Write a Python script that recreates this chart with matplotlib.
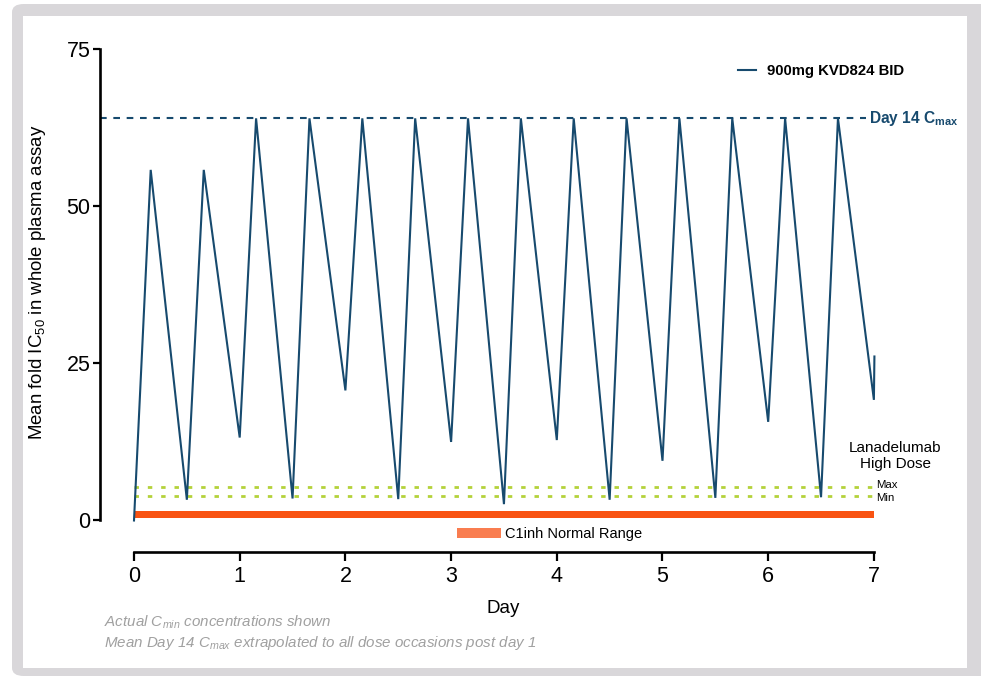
import matplotlib
matplotlib.use("Agg")
import matplotlib.pyplot as plt
from matplotlib.patches import FancyBboxPatch, Patch
from matplotlib.lines import Line2D

plt.rcParams["font.family"] = ["Liberation Sans", "DejaVu Sans"]
plt.rcParams["mathtext.fontset"] = "custom"
plt.rcParams["mathtext.rm"] = "Liberation Sans"
plt.rcParams["mathtext.it"] = "Liberation Sans:italic"
plt.rcParams["mathtext.bf"] = "Liberation Sans:bold"

# mean fold IC50 profile, 900mg BID (peaks + actual troughs)
day = [0.0, 0.158, 0.5, 0.66, 1.0, 1.155, 1.5, 1.66, 2.0, 2.16, 2.5, 2.66, 3.0,
       3.16, 3.5, 3.66, 4.0, 4.16, 4.5, 4.66, 5.0, 5.16, 5.5, 5.66, 6.0, 6.16,
       6.5, 6.66, 7.0, 7.005]
fold_ic50 = [0.0, 55.8, 3.3, 55.8, 13.2, 64.0, 3.5, 64.0, 20.7, 64.0, 3.4, 64.0, 12.5,
             64.0, 2.6, 64.0, 12.8, 64.0, 3.3, 64.0, 9.5, 64.0, 3.6, 64.0, 15.7, 64.0,
             3.7, 64.0, 19.2, 26.1]

cmax_day14 = 64.0
lanadelumab_max = 5.4
lanadelumab_min = 3.95
c1inh_range = (0.45, 1.5)
x_range = (0, 7)

NAVY = "#174a6e"
ORANGE = "#f95312"
ORANGE_LT = "#f97d50"
LIME = "#b4d23a"
GRAY_TXT = "#a0a0a0"
BORDER = "#d9d7da"

fig = plt.figure(figsize=(9.81, 6.76), dpi=100)

# rounded grey card frame
fig.patches.append(FancyBboxPatch((12 / 981, 0), 1.2, (676 - 4) / 676,
                                  boxstyle="round,pad=0,rounding_size=0.012",
                                  transform=fig.transFigure, facecolor=BORDER,
                                  edgecolor="none", zorder=-3))
fig.patches.append(FancyBboxPatch((23 / 981, (676 - 668) / 676), (967 - 23) / 981, (668 - 16) / 676,
                                  boxstyle="square,pad=0", transform=fig.transFigure,
                                  facecolor="white", edgecolor="none", zorder=-2))

ax = fig.add_axes([100 / 981, (676 - 551.9) / 676, 805.6 / 981, 505.8 / 676])
ax.patch.set_alpha(0)
ax.set_xlim(-0.3217, 7.3)
ax.set_ylim(-5.0, 75.5)

ax.fill_between(x_range, c1inh_range[0], c1inh_range[1], color=ORANGE, lw=0, zorder=2)
ax.hlines([lanadelumab_max, lanadelumab_min], x_range[0], x_range[1], colors=LIME,
          linestyles=(0, (1.6, 3.2)), lw=2, zorder=1)
ax.hlines(cmax_day14, -0.3217, 6.93, colors=NAVY, linestyles=(0, (3.2, 3.2)), lw=1.5, zorder=1)
ax.plot(day, fold_ic50, color=NAVY, lw=1.5, zorder=3, solid_joinstyle="miter")

ax.text(6.955, cmax_day14, r"Day 14 C$_{\mathbf{max}}$", color=NAVY, fontsize=11.2,
        fontweight="bold", va="center", ha="left", clip_on=False)
ax.text(7.025, lanadelumab_max + 0.25, "Max", fontsize=8.2, va="center", ha="left")
ax.text(7.025, lanadelumab_min - 0.3, "Min", fontsize=8.2, va="center", ha="left")
ax.text(7.2, 10.3, "Lanadelumab\nHigh Dose", fontsize=11, ha="center", va="center",
        linespacing=1.15)

for s in ["top", "right"]:
    ax.spines[s].set_visible(False)
ax.spines["left"].set_bounds(0, 75)
ax.spines["bottom"].set_bounds(0, 7)
for s in ["left", "bottom"]:
    ax.spines[s].set_linewidth(1.9)
ax.set_yticks([0, 25, 50, 75])
ax.set_xticks(range(0, 8))
ax.tick_params(axis="y", length=5, width=1.6, labelsize=15.5, pad=2)
ax.tick_params(axis="x", length=6.5, width=1.6, labelsize=15.5, pad=4)

ax.set_ylabel(r"Mean fold IC$_{\mathrm{50}}$ in whole plasma assay", fontsize=13.4)
ax.yaxis.set_label_coords(-0.064, 0.5 + (299 - 282) / 505.8)
ax.set_xlabel("Day", fontsize=13.5, labelpad=9)

leg1 = ax.legend(handles=[Line2D([], [], color=NAVY, lw=1.5)], labels=["900mg KVD824 BID"],
                 loc="center left", bbox_to_anchor=(0.775, 0.95), frameon=False,
                 handlelength=1.2, handletextpad=0.8, prop={"weight": "bold", "size": 10.7})
ax.add_artist(leg1)
ax.legend(handles=[Patch(facecolor=ORANGE_LT, edgecolor="none")], labels=["C1inh Normal Range"],
          loc="center left", bbox_to_anchor=(0.427, 0.035), frameon=False,
          handlelength=3.0, handleheight=0.6, handletextpad=0.3, fontsize=10.5)

fig.text(104 / 981, 1 - 622 / 676, r"Actual C$_{min}$ concentrations shown", fontsize=10.9,
         style="italic", color=GRAY_TXT, va="center")
fig.text(104 / 981, 1 - 643 / 676,
         r"Mean Day 14 C$_{max}$ extrapolated to all dose occasions post day 1", fontsize=10.9,
         style="italic", color=GRAY_TXT, va="center")

fig.savefig("out.png", dpi=100)
